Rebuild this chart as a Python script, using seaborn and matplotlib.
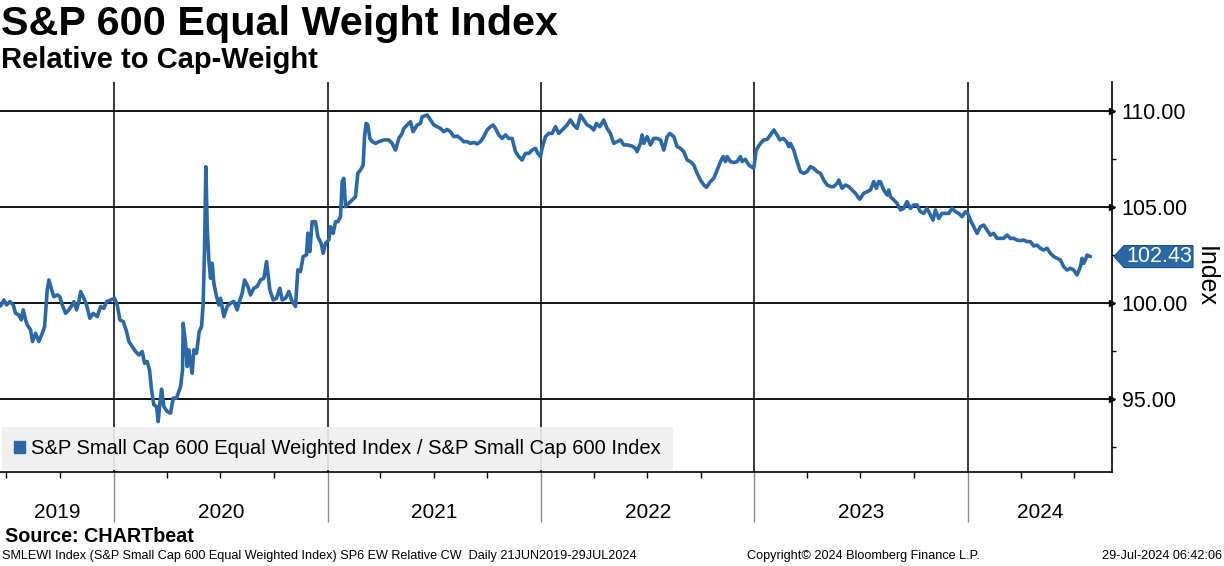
import pandas as pd
import numpy as np
import seaborn as sns
import matplotlib
matplotlib.use("Agg")
import matplotlib.pyplot as plt
import matplotlib.dates as mdates
from matplotlib.patches import Patch, Polygon
from matplotlib.ticker import FormatStrFormatter, MultipleLocator
from matplotlib.transforms import blended_transform_factory

# days after 21 Jun 2019
days = [0, 5.7, 10.3, 16.0, 21.7, 25.7, 31.4, 35.4, 38.8, 42.8, 45.6, 51.3, 54.7, 59.9, 65.6,
        71.3, 75.3, 79.8, 82.7, 86.7, 91.2, 97.0, 101.5, 105.5, 111.2, 116.9, 122.6, 125.5, 130.0,
        134.0, 136.9, 141.4, 147.1, 152.8, 158.5, 165.4, 171.1, 176.8, 181.4, 188.2, 195.0, 199.6,
        204.2, 209.9, 215.6, 219.6, 225.3, 231.0, 236.7, 242.4, 246.4, 250.9, 254.9, 258.3, 262.3,
        266.9, 269.7, 272.6, 275.5, 279.4, 285.2, 290.9, 295.4, 301.1, 308.0, 311.4, 312.5, 316.5,
        319.4, 322.2, 325.1, 327.9, 330.8, 335.3, 339.9, 343.9, 346.7, 349.0, 351.3, 353.6, 356.4,
        359.3, 362.1, 365.0, 369.6, 373.5,
        376.4, 382.1, 387.8, 393.5, 399.2, 404.9, 407.8, 413.5, 417.5, 423.2, 427.7, 433.4, 439.1,
        444.8, 450.5, 455.1, 460.8, 466.5, 472.2, 477.9, 481.9, 487.6, 493.3, 499.0, 504.7, 508.7,
        513.3, 517.8, 523.5, 525.8, 529.2, 533.2, 538.9, 542.9, 548.6, 552.1, 556.1, 561.8, 564.6,
        569.2, 573.2, 577.2, 581.7, 584.6, 587.4, 590.3, 596.0, 601.7, 607.4, 611.4, 615.9, 620.5,
        622.8, 625.6, 628.5, 631.9, 635.9, 641.6, 647.3, 655.9, 664.4, 670.1, 675.8, 681.5, 687.2,
        690.1, 695.8, 701.5, 706.0, 712.9, 718.6, 721.4, 730.0, 735.7, 741.4, 747.1,
        752.8, 758.5, 764.2, 769.9, 775.6, 781.3, 787.0, 792.7, 798.4, 804.1, 809.8, 815.5, 821.2,
        826.9, 832.6, 838.3, 842.9, 846.9, 852.6, 858.3, 864.0, 869.7, 875.4, 881.1, 886.8, 892.5,
        898.2, 903.9, 909.6, 915.3, 919.3, 923.9, 926.7, 932.4, 938.1, 943.9, 949.6, 955.3, 963.8,
        969.5, 975.2, 980.9, 986.6, 992.3, 998.0, 1003.7, 1009.4, 1015.1, 1019.7, 1025.4, 1032.2,
        1037.9, 1043.6, 1049.3, 1055.1, 1060.8, 1066.5, 1072.2, 1080.7, 1086.4, 1089.3, 1095.0,
        1097.8, 1100.7, 1106.4, 1112.1, 1117.8, 1123.5,
        1129.3, 1135.0, 1140.7, 1145.3, 1152.1, 1157.8, 1163.5, 1169.2, 1174.9, 1180.6, 1186.3,
        1192.0, 1197.7, 1203.4, 1208.0, 1214.8, 1220.5, 1226.3, 1232.0, 1236.5, 1240.5, 1243.4,
        1249.1, 1254.8, 1260.5, 1266.2, 1269.0, 1274.7, 1280.4, 1289.0, 1293.0, 1300.4, 1306.1,
        1311.8, 1317.5, 1323.2, 1328.9, 1333.5, 1339.2, 1344.9, 1348.9, 1351.7, 1357.4, 1363.1,
        1368.8, 1374.5, 1380.2, 1385.9, 1391.6, 1397.3, 1403.0, 1408.7, 1414.5, 1420.2, 1425.9,
        1431.6, 1434.4, 1440.1, 1445.8, 1451.5, 1457.2, 1462.9, 1470.3, 1477.2, 1482.9, 1488.6,
        1494.3, 1498.8, 1502.8,
        1505.7, 1511.4, 1517.1, 1519.9, 1522.8, 1528.5, 1534.2, 1539.9, 1545.6, 1551.3, 1557.0,
        1562.7, 1568.4, 1574.1, 1579.8, 1585.5, 1591.2, 1595.8, 1599.8, 1605.5, 1611.2, 1616.9,
        1622.6, 1628.3, 1634.0, 1639.7, 1645.4, 1651.1, 1655.1, 1659.7, 1665.4, 1671.1, 1676.8,
        1682.5, 1688.2, 1693.9, 1699.6, 1705.3, 1711.0, 1716.7, 1722.4, 1728.1, 1733.8, 1739.5,
        1745.2, 1750.9, 1756.6, 1762.3, 1768.0, 1773.7, 1779.4, 1785.1, 1790.9, 1796.6, 1802.3,
        1808.0, 1813.7, 1819.4, 1825.1, 1830.8, 1836.5, 1842.2, 1847.9, 1850.7, 1853.6, 1856.4,
        1859.3, 1865]

ratio = [99.86, 100.17, 99.91, 100.08, 99.91, 99.47, 99.39, 99.13, 99.65, 99.13, 98.87, 98.61, 98.00,
         98.43, 98.00, 98.43, 98.78, 100.69, 101.21, 100.78, 100.34, 100.43, 100.34, 99.91, 99.47,
         99.65, 99.91, 100.08, 99.65, 100.08, 100.60, 100.34, 99.91, 99.21, 99.47, 99.30, 99.82,
         99.73, 100.08, 100.17, 100.26, 99.91, 99.13, 99.04, 98.52, 98.00, 97.74, 97.48, 97.30,
         97.48, 96.87, 96.96, 96.52, 95.48, 94.70, 94.61, 93.83, 94.79, 95.52, 94.61, 94.35, 94.27,
         95.05, 95.05, 95.65, 96.52, 98.95, 97.91, 96.70, 97.57, 96.87, 96.35, 97.57, 97.39, 98.52,
         98.78, 99.99, 102.77, 107.11, 103.99, 102.25, 101.30, 102.08, 101.04, 100.34, 99.91,
         100.26, 99.30, 99.83, 100.00, 100.09, 99.65, 100.00, 100.52, 101.21, 100.87, 100.43, 100.78,
         100.87, 101.21, 101.30, 102.17, 100.69, 100.17, 100.26, 100.78, 100.17, 100.26, 100.61,
         100.09, 99.83, 101.74, 101.65, 102.43, 102.52, 103.65, 102.69, 104.25, 104.25, 103.47,
         103.12, 102.60, 103.12, 103.30, 103.99, 103.64, 104.25, 104.25, 104.51, 106.34, 106.51,
         105.03, 105.21, 105.38, 105.55, 106.77, 106.94, 107.20, 108.68, 109.37, 109.29, 108.59,
         108.42, 108.33, 108.42, 108.51, 108.51, 108.33, 107.98, 108.59, 108.85, 109.11, 109.29,
         109.46, 108.94, 109.29, 109.37, 109.72, 109.81, 109.55, 109.29, 109.20,
         109.11, 108.94, 109.06, 108.94, 108.68, 108.71, 108.59, 108.42, 108.42, 108.33, 108.38,
         108.30, 108.42, 108.68, 109.03, 109.20, 109.29, 109.11, 108.77, 108.59, 108.77, 108.59,
         108.59, 107.90, 107.64, 107.46, 107.81, 107.81, 107.98, 108.07, 107.81, 107.64, 108.07,
         108.68, 108.85, 108.85, 109.20, 108.85, 109.11, 109.29, 109.55, 109.29, 109.11, 109.81,
         109.55, 109.29, 109.20, 109.03, 109.37, 109.20, 109.55, 109.11, 108.85, 108.33, 108.42,
         108.51, 108.25, 108.25, 108.19, 108.07, 107.90, 108.33, 108.77, 108.33, 108.68, 108.25,
         108.59, 108.59,
         108.51, 107.98, 108.68, 108.85, 108.68, 108.16, 108.07, 107.90, 107.46, 107.38, 107.20,
         106.77, 106.42, 106.16, 106.04, 106.34, 106.51, 106.94, 107.38, 107.64, 107.38, 107.64,
         107.38, 107.33, 107.38, 107.64, 107.38, 107.50, 107.20, 107.03, 107.98, 108.33, 108.51,
         108.54, 108.77, 109.03, 108.77, 108.51, 108.59, 108.42, 108.16, 108.33, 107.98, 107.38,
         106.86, 106.77, 106.86, 107.12, 107.03, 106.86, 106.77, 106.42, 106.16, 106.08, 106.08,
         106.25, 106.42, 105.99, 106.16, 106.08, 105.90, 105.73, 105.42, 105.73, 105.81, 105.90,
         106.34, 105.99, 106.34,
         106.33, 105.90, 105.64, 105.90, 105.55, 105.38, 105.20, 104.86, 104.94, 105.29, 104.94,
         105.12, 105.12, 104.77, 104.68, 104.94, 104.60, 104.33, 104.86, 104.42, 104.68, 104.68,
         104.68, 104.94, 104.77, 104.68, 104.51, 104.77, 104.68, 104.33, 103.99, 103.64, 103.99,
         104.07, 103.81, 103.55, 103.64, 103.38, 103.38, 103.38, 103.55, 103.38, 103.38, 103.29,
         103.26, 103.29, 103.21, 103.21, 102.98, 103.03, 102.86, 102.77, 102.86, 102.60, 102.43,
         102.34, 102.25, 101.90, 101.73, 101.82, 101.73, 101.47, 101.90, 102.34, 102.08, 102.25,
         102.51, 102.43]

years = ["2019", "2020", "2021", "2022", "2023", "2024"]
yticks = [95, 100, 105, 110]
last_value = 102.43
series_name = "S&P Small Cap 600 Equal Weighted Index / S&P Small Cap 600 Index"

blue = "#2a68a8"

start = pd.Timestamp("2019-06-21")
df = pd.DataFrame({"Date": start + pd.to_timedelta(days, unit="D"), "Ratio": ratio})

sns.set_theme(style="white")
plt.rcParams["font.family"] = ["Liberation Sans", "DejaVu Sans"]
plt.rcParams["text.color"] = "black"
plt.rcParams["axes.labelcolor"] = "black"
plt.rcParams["xtick.color"] = "black"
plt.rcParams["ytick.color"] = "black"

fig = plt.figure(figsize=(12.24, 5.66), dpi=100)
ax = fig.add_axes([0.0, 1 - 472 / 566, 1112 / 1224, 390 / 566])

x0, x1 = pd.Timestamp("2019-06-20"), pd.Timestamp("2024-09-04")
year_starts = pd.date_range("2020-01-01", "2024-01-01", freq="YS")

for y in yticks:
    ax.axhline(y, color="black", lw=1.3, zorder=1)
for d in year_starts:
    ax.axvline(d, color="black", lw=1.1, zorder=1)

sns.lineplot(data=df, x="Date", y="Ratio", ax=ax, color=blue, linewidth=2.6,
             legend=False, zorder=3)

ax.set_xlim(x0, x1)
ax.set_ylim(91.2, 111.53)

# spines
for s in ["left", "top"]:
    ax.spines[s].set_visible(False)
for s in ["right", "bottom"]:
    ax.spines[s].set_color("black")
    ax.spines[s].set_linewidth(1.2)

# y axis on the right
ax.yaxis.tick_right()
ax.yaxis.set_label_position("right")
ax.set_yticks(yticks)
ax.yaxis.set_major_formatter(FormatStrFormatter("%.2f"))
ax.yaxis.set_minor_locator(MultipleLocator(2.5))
ax.tick_params(axis="y", which="major", length=0, pad=7, labelsize=15.5, colors="black")
ax.tick_params(axis="y", which="minor", right=True, length=3, width=1, color="black")
ax.set_ylabel("Index", rotation=270, fontsize=18, labelpad=21, color="black")
yblend = blended_transform_factory(ax.transAxes, ax.transData)
ax.plot([1.0] * len(yticks), yticks, linestyle="none", marker=">", markersize=5,
        color="black", transform=yblend, clip_on=False, zorder=6)

# x axis: year boundaries as long gray ticks, quarterly minor ticks
ax.set_xticks(year_starts)
ax.set_xticklabels([])
ax.xaxis.set_minor_locator(mdates.MonthLocator(bymonth=[4, 7, 10]))
ax.tick_params(axis="x", which="major", bottom=True, length=36, width=1, color="#8a8a8a")
ax.tick_params(axis="x", which="minor", bottom=True, length=4.5, width=1, color="black")
ax.set_xlabel("")

xblend = blended_transform_factory(ax.transData, ax.transAxes)
edges = [x0] + list(year_starts) + [x1]
for i, lab in enumerate(years):
    mid = edges[i] + (edges[i + 1] - edges[i]) / 2
    ax.text(mid, -0.103, lab, transform=xblend, ha="center", va="center",
            fontsize=15, color="black")

# last value tag
px, py = 1 / 1112, 1 / 19.2
tag = Polygon([(1 + 2 * px, last_value), (1 + 12 * px, last_value + 11 * py),
               (1 + 81 * px, last_value + 11 * py), (1 + 81 * px, last_value - 11 * py),
               (1 + 12 * px, last_value - 11 * py)], closed=True, transform=yblend,
              facecolor=blue, edgecolor="#1d4f84", lw=0.8, clip_on=False, zorder=7)
ax.add_patch(tag)
ax.text(1 + 47 * px, last_value, f"{last_value:.2f}", transform=yblend, ha="center",
        va="center", color="white", fontsize=15.5, zorder=8)

# legend
leg = ax.legend(handles=[Patch(facecolor=blue, edgecolor=blue)], labels=[series_name],
                loc="lower left", bbox_to_anchor=(0.002, 0.004), borderaxespad=0,
                fontsize=14.5, frameon=True, fancybox=False, facecolor="#efefef",
                edgecolor="none", framealpha=0.9, handlelength=0.55, handleheight=0.55,
                handletextpad=0.3, borderpad=0.6)
leg.set_zorder(5)
for t in leg.get_texts():
    t.set_color("black")

# titles and footer
fig.text(0.001, 1 - 24 / 566, "S&P 600 Equal Weight Index", fontsize=29.8,
         fontweight="bold", va="center", ha="left")
fig.text(0.001, 1 - 60 / 566, "Relative to Cap-Weight", fontsize=21,
         fontweight="bold", va="center", ha="left")
fig.text(5 / 1224, 1 - 537 / 566, "Source: CHARTbeat", fontsize=14.2,
         fontweight="bold", va="center", ha="left")
fig.text(2 / 1224, 1 - 556 / 566,
         "SMLEWI Index (S&P Small Cap 600 Equal Weighted Index) SP6 EW Relative CW  Daily 21JUN2019-29JUL2024",
         fontsize=9.1, va="center", ha="left")
fig.text(747 / 1224, 1 - 556 / 566, "Copyright\u00a9 2024 Bloomberg Finance L.P.",
         fontsize=9.1, va="center", ha="left")
fig.text(1222 / 1224, 1 - 556 / 566, "29-Jul-2024 06:42:06", fontsize=9.1,
         va="center", ha="right")

fig.savefig("out.png", dpi=100)
